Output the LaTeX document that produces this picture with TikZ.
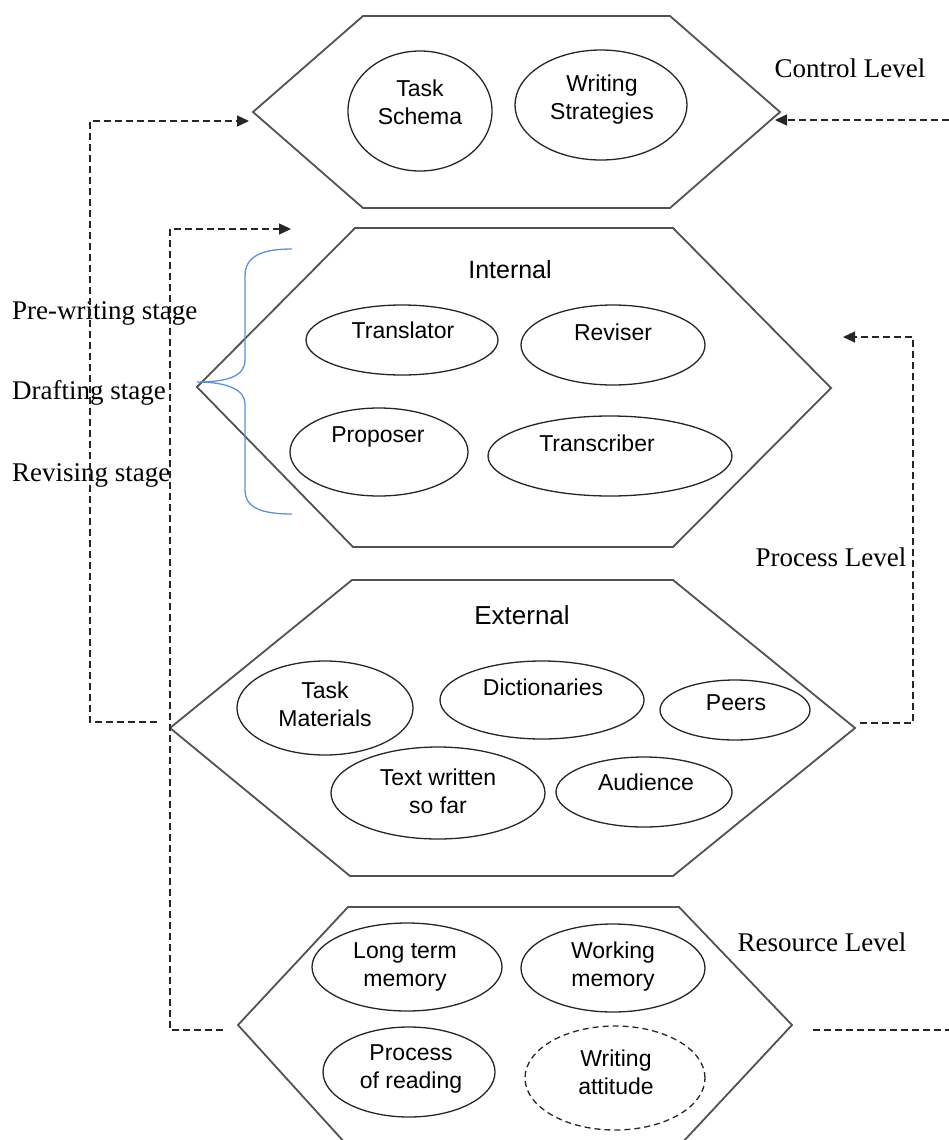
\documentclass[tikz,border=0pt]{standalone}
\usepackage{fontspec}
\setmainfont{Liberation Serif}
\newfontfamily\arialfont{Liberation Sans}
\usetikzlibrary{arrows.meta,shapes.geometric}

\begin{document}
\begin{tikzpicture}[x=1pt,y=-1pt,
  hexline/.style={draw=black!68, line width=1.8pt, line join=miter},
  oval/.style={ellipse, draw=black!85, line width=1.3pt, inner sep=0pt},
  dashedoval/.style={oval, dash pattern=on 6pt off 4pt},
  intext/.style={font=\arialfont\fontsize{23}{28}\selectfont, align=center, inner sep=0pt},
  headtext/.style={font=\arialfont\fontsize{25}{30}\selectfont, inner sep=0pt},
  leveltext/.style={font=\fontsize{27}{30}\selectfont, inner sep=0pt},
  feedback/.style={draw=black!85, line width=1.4pt, dash pattern=on 7pt off 4pt},
  tip/.style={-{Triangle[length=12pt,width=11pt]}},
  bracket/.style={draw={rgb,255:red,95;green,145;blue,212}, line width=1.3pt}
]
\useasboundingbox (0,0) rectangle (949,1140);
\clip (0,0) rectangle (949,1140);

% ---------- hexagon corners ----------
\coordinate (ctl-l) at (253,112);  \coordinate (ctl-r) at (780,112);
\coordinate (int-l) at (197,387);  \coordinate (int-r) at (831,388);
\coordinate (ext-l) at (170,728);  \coordinate (ext-r) at (855,728);
\coordinate (res-l) at (238,1025); \coordinate (res-r) at (792,1025);

% Control level
\draw[hexline] (ctl-l) -- (363,16) -- (670,16) -- (ctl-r) -- (670,208) -- (363,208) -- cycle;
% Process level: internal
\draw[hexline] (int-l) -- (355,228) -- (673,228) -- (int-r) -- (673,547) -- (353,547) -- cycle;
% Process level: external
\draw[hexline] (ext-l) -- (352,580) -- (673,580) -- (ext-r) -- (673,876) -- (350,876) -- cycle;
% Resource level
\draw[hexline] (res-l) -- (348,907) -- (679,907) -- (res-r) -- (681,1144) -- (346,1144) -- cycle;

% ---------- control level ----------
\node[oval, minimum width=144pt, minimum height=120pt] (schema) at (420,111) {};
\node[intext] (schema-t) at (420,102) {Task\\Schema};
\node[oval, minimum width=172pt, minimum height=110pt] (strat) at (601,105) {};
\node[intext] (strat-t) at (602,100) {Writing\\Strategies};

% ---------- internal ----------
\node[headtext] (internal) at (510,270) {Internal};
\node[oval, minimum width=192pt, minimum height=70pt] (transl) at (402,340) {};
\node[intext] (transl-t) at (403,330) {Translator};
\node[oval, minimum width=184pt, minimum height=80pt] (revis) at (613,345) {};
\node[intext] (revis-t) at (613,332) {Reviser};
\node[oval, minimum width=178pt, minimum height=88pt] (propo) at (379,452) {};
\node[intext] (propo-t) at (378,437) {Proposer};
\node[oval, minimum width=244pt, minimum height=80pt] (transc) at (610,456) {};
\node[intext] (transc-t) at (597,443) {Transcriber};

% ---------- external ----------
\node[headtext, font=\arialfont\fontsize{26}{30}\selectfont] (external) at (522,615) {External};
\node[oval, minimum width=176pt, minimum height=94pt] (mater) at (325,708) {};
\node[intext] (mater-t) at (325,704) {Task\\Materials};
\node[oval, minimum width=204pt, minimum height=78pt] (dict) at (542,700) {};
\node[intext] (dict-t) at (543,687) {Dictionaries};
\node[oval, minimum width=150pt, minimum height=60pt] (peers) at (735,710) {};
\node[intext] (peers-t) at (736,703) {Peers};
\node[oval, minimum width=214pt, minimum height=92pt] (sofar) at (438,793) {};
\node[intext] (sofar-t) at (438,791) {Text written\\so far};
\node[oval, minimum width=176pt, minimum height=70pt] (aud) at (644,792) {};
\node[intext] (aud-t) at (646,782) {Audience};

% ---------- resource level ----------
\node[oval, minimum width=190pt, minimum height=88pt] (ltm) at (407,967) {};
\node[intext] (ltm-t) at (405,967) {Long term\\memory};
\node[oval, minimum width=184pt, minimum height=88pt] (wm) at (613,968) {};
\node[intext] (wm-t) at (613,967) {Working\\memory};
\node[oval, minimum width=172pt, minimum height=90pt] (read) at (409,1072) {};
\node[intext] (read-t) at (411,1069) {Process\\of reading};
\node[dashedoval, minimum width=180pt, minimum height=104pt] (attit) at (615,1078) {};
\node[intext] (attit-t) at (616,1072) {Writing\\attitude};

% ---------- level labels ----------
\node[leveltext] (lvl-ctl) at (850,68) {Control Level};
\node[leveltext] (lvl-proc) at (831,557) {Process Level};
\node[leveltext] (lvl-res) at (822,942) {Resource Level};

% ---------- writing stages ----------
\node[leveltext, anchor=west] (st-pre) at (12,313) {Pre-writing stage};
\node[leveltext, anchor=west] (st-draft) at (12,393) {Drafting stage};
\node[leveltext, anchor=west] (st-rev) at (12,475) {Revising stage};

% brace grouping the stages
\draw[bracket] (292,249) .. controls (262,249) and (245,256) .. (245,276)
  -- (245,360) .. controls (245,376) and (228,382) .. (197,382)
  .. controls (228,382) and (245,390) .. (245,404)
  -- (245,490) .. controls (245,508) and (262,514) .. (292,514);

% ---------- feedback loops ----------
\coordinate (loopA-s) at (157,722);
\coordinate (loopA-e) at (249,121);
\draw[feedback, tip] (loopA-s) -- (90,722) -- (90,121) -- (loopA-e);

\coordinate (loopB-s) at (223,1030);
\coordinate (loopB-e) at (291,229);
\draw[feedback, tip] (loopB-s) -- (170,1030) -- (170,229) -- (loopB-e);

\coordinate (loopC-s) at (860,723);
\coordinate (loopC-e) at (843,337);
\draw[feedback, tip] (loopC-s) -- (913,723) -- (913,337) -- (loopC-e);

\coordinate (loopD-s) at (949,120);
\coordinate (loopD-e) at (775,120);
\draw[feedback, tip] (loopD-s) -- (loopD-e);

\coordinate (loopE-s) at (813,1030);
\coordinate (loopE-e) at (949,1030);
\draw[feedback] (loopE-s) -- (loopE-e);
\end{tikzpicture}
\end{document}
